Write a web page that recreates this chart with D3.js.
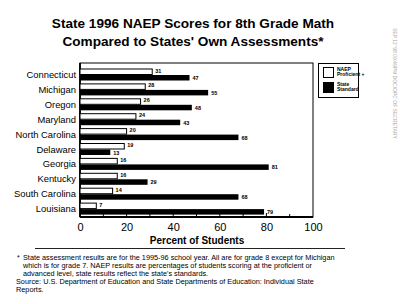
<!DOCTYPE html>
<html><head><meta charset="utf-8">
<script src="https://cdn.jsdelivr.net/npm/d3@7"></script>
<style>body{margin:0;background:#fff}svg{display:block}text{font-family:"Liberation Sans",Arial,sans-serif}</style>
</head><body>
<svg id="c" width="400" height="304"></svg>
<script>
const states = ["Connecticut","Michigan","Oregon","Maryland","North Carolina","Delaware","Georgia","Kentucky","South Carolina","Louisiana"];
const naep = [31,28,26,24,20,19,16,16,14,7];
const stateStd = [47,55,48,43,68,13,81,29,68,79];
const ticks = [0,20,40,60,80,100];
const minorTicks = [10,20,30,40,50,60,70,80,90];
const seriesNames = ["NAEP\nProficient +","State\nStandard"];
const titleLines = ["State 1996 NAEP Scores for 8th Grade Math","Compared to States' Own Assessments*"];
const xTitle = "Percent of Students";
const notes = [
 "State assessment results are for the 1995-96 school year.  All are for grade 8 except for Michigan",
 "which is for grade 7.  NAEP results are percentages of students scoring at the proficient or",
 "advanced level, state results reflect the state's standards."];
const source = ["Source:  U.S. Department of Education and State Departments of Education: Individual State","Reports."];

const svg = d3.select("#c");
const x = d3.scaleLinear().domain([0,100]).range([80,313]);
const y = d3.scaleBand().domain(states).range([65,214]);
const plotTop = 63, plotBottom = 217;

// title
svg.append("g").selectAll("text").data(titleLines).join("text")
  .attr("x",193).attr("y",(d,i)=>28+i*18).attr("text-anchor","middle")
  .attr("font-weight","bold").attr("font-size",13.6).text(d=>d);

// frame
svg.append("rect").attr("x",x(0)).attr("y",plotTop).attr("width",x(100)-x(0)).attr("height",plotBottom-plotTop)
  .attr("fill","none").attr("stroke","#000").attr("stroke-width",1);
svg.append("line").attr("x1",x(0)).attr("x2",x(0)).attr("y1",plotTop).attr("y2",plotBottom).attr("stroke","#000").attr("stroke-width",1.8);
svg.append("line").attr("x1",x(0)).attr("x2",x(100)).attr("y1",plotBottom).attr("y2",plotBottom).attr("stroke","#000").attr("stroke-width",1.8);

// minor ticks
svg.append("g").selectAll("line").data(minorTicks).join("line")
  .attr("x1",d=>x(d)).attr("x2",d=>x(d)).attr("y1",plotBottom).attr("y2",d=>plotBottom-(d%20===0?4:3))
  .attr("stroke","#000").attr("stroke-width",1);

// x axis labels
const ax = svg.append("g").attr("transform",`translate(0,${plotBottom})`)
  .call(d3.axisBottom(x).tickValues(ticks).tickSize(0).tickPadding(6).tickFormat(d3.format("d")));
ax.select(".domain").remove();
ax.selectAll("text").attr("font-size",11).attr("font-family","Liberation Sans, Arial, sans-serif").attr("fill","#000");

svg.append("text").attr("x",197).attr("y",244).attr("text-anchor","middle")
  .attr("font-weight","bold").attr("font-size",10).text(xTitle);
svg.append("line").attr("x1",35).attr("x2",345).attr("y1",248.5).attr("y2",248.5).attr("stroke","#222").attr("stroke-width",1);

// category labels
svg.append("g").selectAll("text").data(states).join("text")
  .attr("x",76).attr("y",d=>y(d)+13).attr("text-anchor","end").attr("font-size",9.4).text(d=>d);

// bars
const g = svg.append("g");
states.forEach((s,i)=>{
  const by = y(s);
  g.append("rect").attr("x",x(0)).attr("y",by+4).attr("width",x(naep[i])-x(0)).attr("height",5.5)
    .attr("fill","#fff").attr("stroke","#000").attr("stroke-width",1);
  g.append("rect").attr("x",x(0)).attr("y",by+10).attr("width",x(stateStd[i])-x(0)).attr("height",5.5)
    .attr("fill","#000");
  g.append("text").attr("x",x(naep[i])+3).attr("y",by+7.5).attr("font-size",5.5).attr("font-weight","bold").text(naep[i]);
  g.append("text").attr("x",x(stateStd[i])+3).attr("y",by+15).attr("font-size",5.5).attr("font-weight","bold").text(stateStd[i]);
});

// legend
const lg = svg.append("g");
lg.append("rect").attr("x",318.5).attr("y",63.5).attr("width",40).attr("height",34).attr("fill","#fff").attr("stroke","#000").attr("stroke-width",1);
lg.append("rect").attr("x",323.5).attr("y",67.5).attr("width",10).attr("height",10).attr("fill","#fff").attr("stroke","#000");
lg.append("rect").attr("x",323).attr("y",82).attr("width",11).attr("height",11).attr("fill","#000");
seriesNames.forEach((n,i)=>{
  n.split("\n").forEach((l,j)=>{
    lg.append("text").attr("x",337).attr("y",71+i*15+j*5).attr("font-size",5).attr("font-weight","bold").text(l);
  });
});

// footnote
const fn = svg.append("g").attr("font-size",7.3);
fn.append("text").attr("x",17).attr("y",260).attr("font-size",7).text("*");
notes.forEach((t,i)=>fn.append("text").attr("x",23).attr("y",260+i*8).text(t));
source.forEach((t,i)=>fn.append("text").attr("x",16).attr("y",284+i*8).text(t));

// fax header
svg.append("text").attr("transform","translate(393,28) rotate(90)").attr("font-size",5).attr("fill","#aaa")
  .text("SEP 12 '98 09:49PM DOC/OPC OF SECRETARY");
</script>
</body></html>
